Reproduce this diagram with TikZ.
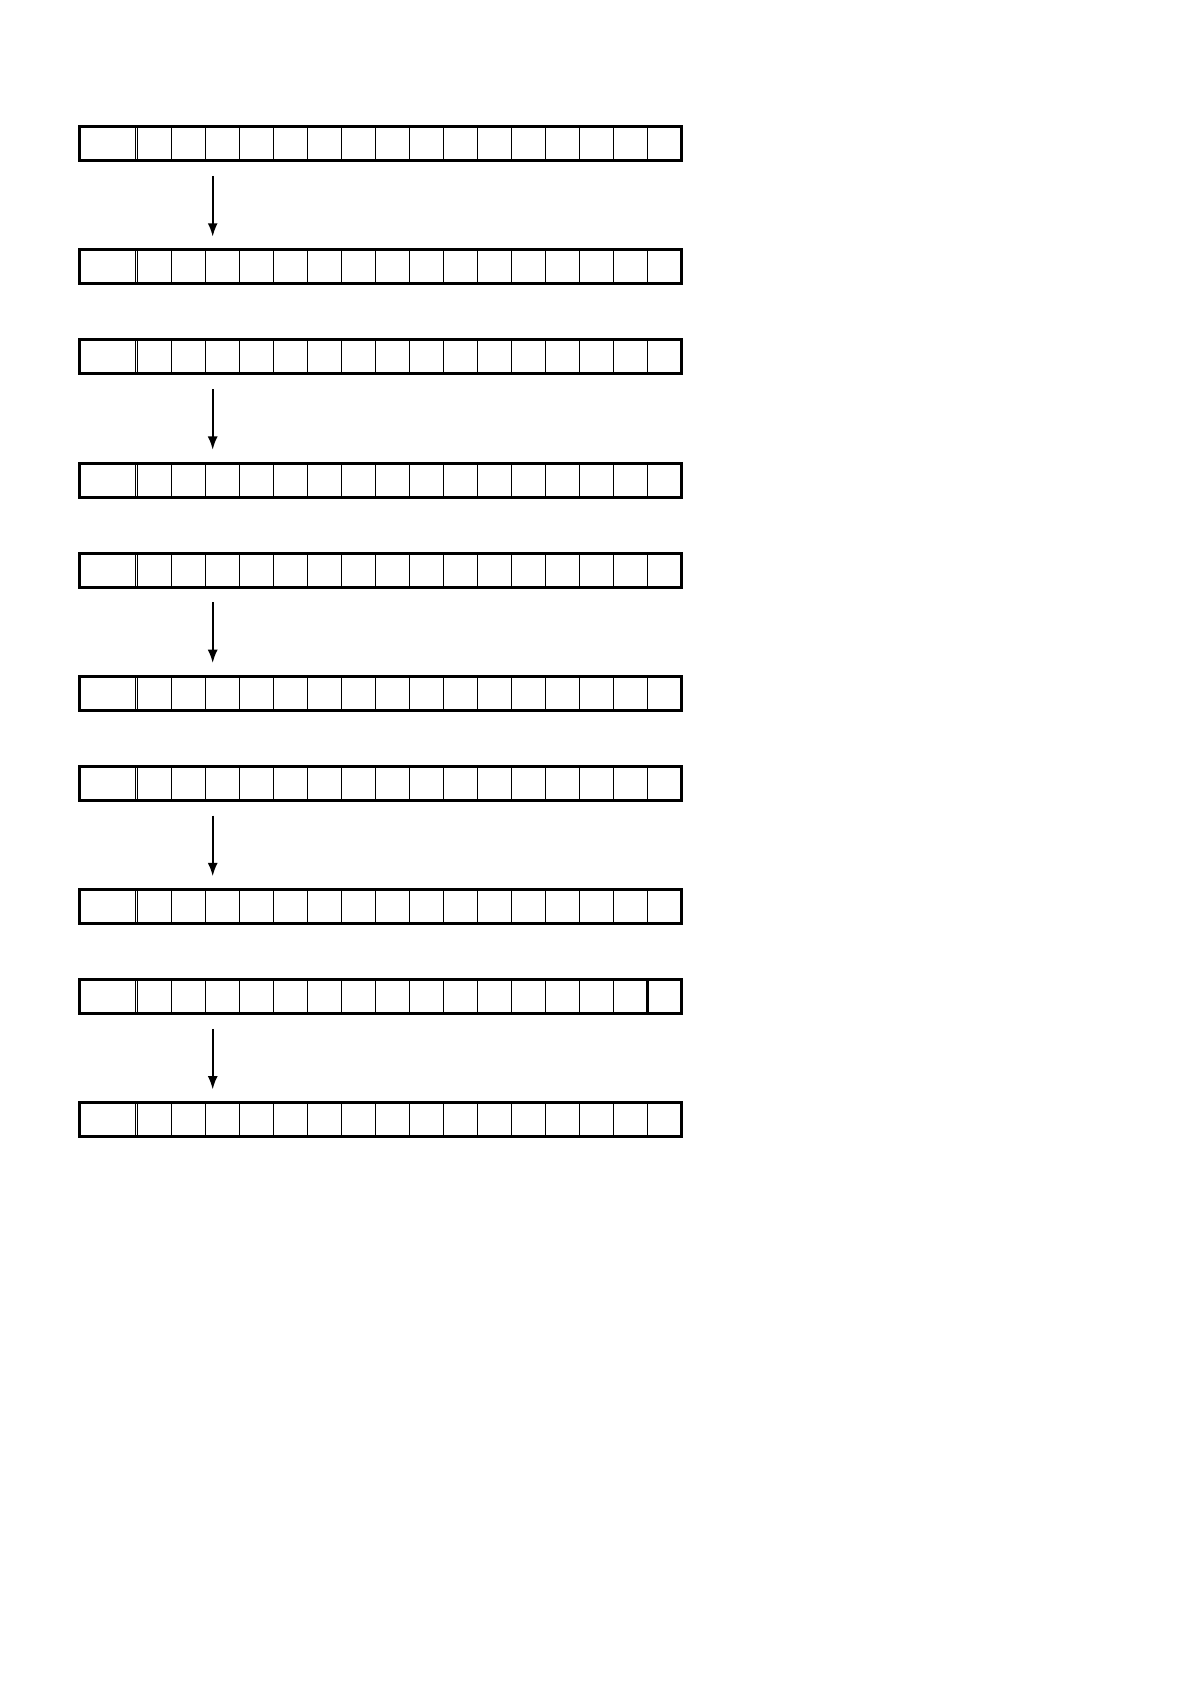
\documentclass[tikz,border=0pt]{standalone}
\usetikzlibrary{arrows.meta}
\begin{document}
\begin{tikzpicture}
        [x=0.5pt,y=-0.5pt,
         row_style/.style={draw=black,line width=1.5pt,anchor=north west,minimum width=301pt,minimum height=17pt,inner sep=0pt,outer sep=0pt},
         cell_style/.style={draw=black,line width=0.75pt},
         cell_style_thick/.style={draw=black,line width=1.5pt},
         arrow_style/.style={draw=black,line width=1pt,-{Latex[length=6.7pt,width=5pt]}}]
            \useasboundingbox (0,0) rectangle (1191,1684);
            \node[row_style] (r1) at (79.5,126.7)  {};
            \node[row_style] (r2) at (79.5,250.0)  {};
            \node[row_style] (r3) at (79.5,339.9)  {};
            \node[row_style] (r4) at (79.5,463.2)  {};
            \node[row_style] (r5) at (79.5,553.1)  {};
            \node[row_style] (r6) at (79.5,676.4)  {};
            \node[row_style] (r7) at (79.5,766.3)  {};
            \node[row_style] (r8) at (79.5,889.6)  {};
            \node[row_style] (r9) at (79.5,979.5)  {};
            \node[row_style] (r10) at (79.5,1102.8) {};
            \foreach \r in {1,...,10}
            {
              \draw[cell_style] ([xshift=27.9pt]r\r.north west) -- ([xshift=27.9pt]r\r.south west);
              \foreach \k in {0,...,15}
                \draw[cell_style] ([xshift=29.1pt+\k*17pt]r\r.north west) -- ([xshift=29.1pt+\k*17pt]r\r.south west);
            }
            \draw[cell_style_thick] ([xshift=284.1pt]r9.north west) -- ([xshift=284.1pt]r9.south west);
            \draw[arrow_style] ([xshift=66.6pt,yshift=-7.65pt]r1.south west) -- ([xshift=66.6pt,yshift=6.65pt]r2.north west);
            \draw[arrow_style] ([xshift=66.6pt,yshift=-7.65pt]r3.south west) -- ([xshift=66.6pt,yshift=6.65pt]r4.north west);
            \draw[arrow_style] ([xshift=66.6pt,yshift=-7.65pt]r5.south west) -- ([xshift=66.6pt,yshift=6.65pt]r6.north west);
            \draw[arrow_style] ([xshift=66.6pt,yshift=-7.65pt]r7.south west) -- ([xshift=66.6pt,yshift=6.65pt]r8.north west);
            \draw[arrow_style] ([xshift=66.6pt,yshift=-7.65pt]r9.south west) -- ([xshift=66.6pt,yshift=6.65pt]r10.north west);
        \end{tikzpicture}
\end{document}
